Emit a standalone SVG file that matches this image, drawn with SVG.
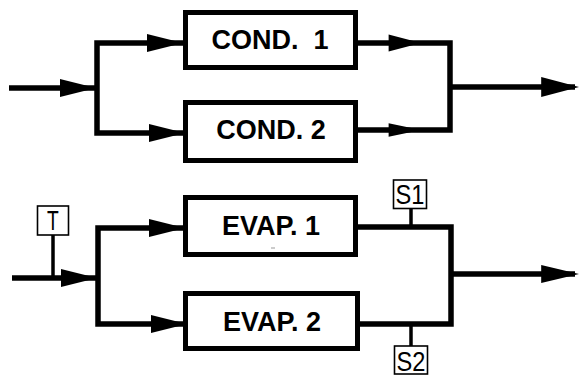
<svg xmlns="http://www.w3.org/2000/svg" xmlns:xlink="http://www.w3.org/1999/xlink" width="579" height="375" viewBox="0 0 579 375">
<style>
.box{fill:#fff;stroke:#000;stroke-width:5}
.lbl{font-family:"Liberation Sans",Arial,sans-serif;font-weight:bold;font-size:27px;fill:#000;text-anchor:middle}
.wire{fill:none;stroke:#000;stroke-width:5.5;stroke-linejoin:miter;stroke-linecap:butt}
.stem{fill:none;stroke:#000;stroke-width:3.5}
.tag{fill:#fff;stroke:#000;stroke-width:1.6}
.tagt{font-family:"Liberation Sans",Arial,sans-serif;font-size:27.5px;fill:#000;text-anchor:middle}
.ah{fill:#000}
</style>
<defs>
<path id="ah" d="M0,0 L-36,-9 L-36,9 Z"/>
</defs>
<rect width="579" height="375" fill="#fff"/>
<g id="connectors">
<polyline class="wire" points="9,88 97,88"/>
<polyline class="wire" points="183,43 97,43 97,133 185,133"/>
<polyline class="wire" points="358,43 450,43 450,130 358,130"/>
<polyline class="wire" points="450,87 575,87"/>
<polyline class="wire" points="12,278 97,278"/>
<polyline class="wire" points="185,228 98,228 98,324 187,324"/>
<polyline class="wire" points="358,227 451,227 451,324 358,324"/>
<polyline class="wire" points="451,274 575,274"/>
<line class="stem" x1="53" y1="235" x2="53" y2="276"/>
<line class="stem" x1="411" y1="208" x2="411" y2="226"/>
<line class="stem" x1="411" y1="325" x2="411" y2="346"/>
<use xlink:href="#ah" class="ah" transform="translate(96,88)"/>
<use xlink:href="#ah" class="ah" transform="translate(183,43)"/>
<use xlink:href="#ah" class="ah" transform="translate(185,133)"/>
<use xlink:href="#ah" class="ah" transform="translate(421,43) scale(0.9,0.95)"/>
<use xlink:href="#ah" class="ah" transform="translate(421,130) scale(0.9,0.75)"/>
<use xlink:href="#ah" class="ah" transform="translate(579,87) scale(1.05,1.1)"/>
<use xlink:href="#ah" class="ah" transform="translate(97,278)"/>
<use xlink:href="#ah" class="ah" transform="translate(185,228)"/>
<use xlink:href="#ah" class="ah" transform="translate(187,324)"/>
<use xlink:href="#ah" class="ah" transform="translate(579,274) scale(1.05,1)"/>
</g>
<g id="cond1">
<rect class="box" x="185.5" y="12.5" width="170" height="55"/>
<text class="lbl" x="270" y="49" xml:space="preserve">COND.  1</text>
</g>
<g id="cond2">
<rect class="box" x="185.5" y="102.5" width="170" height="58"/>
<text class="lbl" x="271" y="139">COND. 2</text>
</g>
<g id="evap1">
<rect class="box" x="185.5" y="197.5" width="170" height="57"/>
<text class="lbl" x="271" y="235">EVAP. 1</text>
<line x1="271" y1="248" x2="275" y2="248" stroke="#999" stroke-width="1"/>
</g>
<g id="evap2">
<rect class="box" x="185.5" y="293.5" width="172" height="55"/>
<text class="lbl" x="272" y="331">EVAP. 2</text>
</g>
<g id="t-sensor">
<rect class="tag" x="37.5" y="206" width="31" height="29"/>
<text class="tagt" transform="translate(53,230) scale(0.7,1)" x="0" y="0">T</text>
</g>
<g id="s1-sensor">
<rect class="tag" x="393.5" y="180" width="33" height="28.5"/>
<text class="tagt" transform="translate(410,204) scale(0.86,1)" x="0" y="0">S1</text>
</g>
<g id="s2-sensor">
<rect class="tag" x="394.5" y="346" width="33" height="28"/>
<text class="tagt" transform="translate(411,371) scale(0.86,1)" x="0" y="0">S2</text>
</g>
</svg>
